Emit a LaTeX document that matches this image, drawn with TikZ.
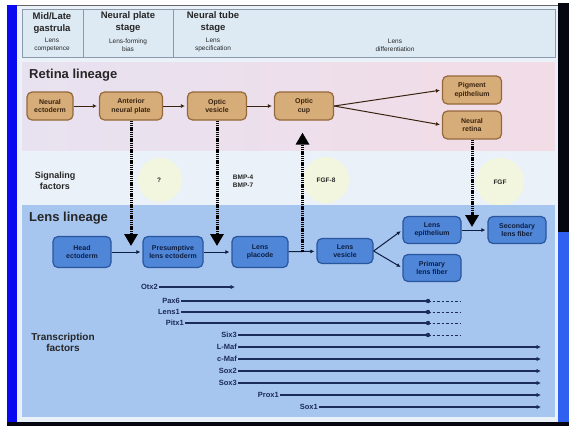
\documentclass[tikz,border=0pt]{standalone}
\usepackage{fontspec}
\setmainfont{Liberation Sans}
\usetikzlibrary{arrows.meta,calc}

\definecolor{slidebg}{HTML}{EAF1F8}
\definecolor{hdrfill}{HTML}{DDEAF4}
\definecolor{hdrline}{HTML}{8A9AAA}
\definecolor{retleft}{HTML}{E8E2F0}
\definecolor{retright}{HTML}{F2DCE6}
\definecolor{lenspanel}{HTML}{A6C5EF}
\definecolor{tanfill}{HTML}{D6AC78}
\definecolor{tanline}{HTML}{94683A}
\definecolor{tantext}{HTML}{3A2410}
\definecolor{lensfill}{HTML}{4F86D8}
\definecolor{lensline}{HTML}{2A569E}
\definecolor{lenstext}{HTML}{0E1E40}
\definecolor{tfcol}{HTML}{1C2C58}
\definecolor{glow}{HTML}{F3F6DE}
\definecolor{stripblue}{HTML}{0A0AF0}
\definecolor{stripright}{HTML}{3060F0}
\definecolor{stripdark}{HTML}{05060F}

\begin{document}
\begin{tikzpicture}[x=1pt, y=-1pt,
  every node/.style={font=\fontsize{7}{8.5}\selectfont\bfseries, align=center, inner sep=1pt, text=black!85},
  stage/.style={font=\fontsize{9.5}{12}\selectfont\bfseries},
  sub/.style={font=\fontsize{6.5}{8}\selectfont},
  heading/.style={font=\fontsize{13}{15}\selectfont\bfseries, anchor=west},
  side/.style={font=\fontsize{9}{11}\selectfont\bfseries},
  retina/.style={draw=tanline, fill=tanfill, line width=1.2pt, rounded corners=5pt,
    minimum width=59pt, minimum height=28pt, text=tantext},
  lens/.style={draw=lensline, fill=lensfill, line width=1.2pt, rounded corners=5pt,
    minimum width=58pt, minimum height=27pt, text=lenstext},
  flow/.style={line width=1pt, -{Latex[length=4pt,width=4pt]}, shorten >=2pt},
  signal/.style={line width=3pt, dash pattern=on 1.3pt off 0.9pt,
    -{Triangle[length=12pt,width=13pt]}},
  factor/.style={font=\fontsize{6.5}{8}\selectfont\bfseries},
  tf/.style={font=\fontsize{7.5}{8}\selectfont\bfseries, text=tfcol, anchor=east},
  tfline/.style={tfcol, line width=1.3pt},
  tfarrow/.style={tfline, -{Latex[length=4.5pt,width=4.5pt]}}
]
  \useasboundingbox (0,0) rectangle (569,426);
  % Slide frame
  \fill[white] (0,0) rectangle (569,426);
  \fill[slidebg] (17,5) rectangle (558,422);
  \draw[black!60, line width=1pt] (17,5) -- (558,5);
  \fill[stripblue] (7,5) rectangle (17,426);
  \fill[stripdark] (558,3) rectangle (569,232);
  \fill[stripright] (558,232) rectangle (569,422);
  \fill[stripdark] (7,422) rectangle (569,426);

  % Stages
  \draw[hdrline, fill=hdrfill, line width=0.8pt] (22,9) rectangle (555,57);
  \draw[hdrline, line width=0.8pt] (83,9) -- (83,57) (173,9) -- (173,57);
  \node[stage] (gastrula) at (52,23) {Mid/Late\\gastrula};
  \node[sub] (competence) at (52,45) {Lens\\competence};
  \node[stage] (plate) at (128,22) {Neural plate\\stage};
  \node[sub] (bias) at (128,45) {Lens-forming\\bias};
  \node[stage] (tube) at (213,22) {Neural tube\\stage};
  \node[sub] (specification) at (213,45) {Lens\\specification};
  \node[sub] (differentiation) at (395,45) {Lens\\differentiation};

  % Retina lineage
  \shade[left color=retleft, right color=retright] (22,62) rectangle (555,150);
  \node[heading] (retinalbl) at (28,75) {Retina lineage};
  \node[retina, minimum width=46pt] (ne) at (50,106) {Neural\\ectoderm};
  \node[retina, minimum width=63pt] (anp) at (131,106) {Anterior\\neural plate};
  \node[retina] (ov) at (217,106) {Optic\\vesicle};
  \node[retina] (oc) at (304,106) {Optic\\cup};
  \node[retina] (pig) at (472,90) {Pigment\\epithelium};
  \node[retina] (nr) at (472,125) {Neural\\retina};
  \draw[flow, tantext] (ne) -- (anp);
  \draw[flow, tantext] (anp) -- (ov);
  \draw[flow, tantext] (ov) -- (oc);
  \draw[flow, tantext] (oc.east) -- (pig.west);
  \draw[flow, tantext] (oc.east) -- (nr.west);

  % Signaling factors
  \fill[glow] (160,180) circle (22);
  \fill[glow] (326,180) circle (23);
  \fill[glow] (500,182) circle (24);
  \node[side] (siglbl) at (55,181) {Signaling\\factors};
  \node[factor] (unknown) at (159,180) {?};
  \node[factor] (bmp) at (243,181) {BMP-4\\BMP-7};
  \node[factor] (fgf8) at (326,180) {FGF-8};
  \node[factor] (fgf) at (500,182) {FGF};

  % Lens lineage
  \fill[lenspanel] (22,205) rectangle (555,417);
  \node[heading] (lenslbl) at (28,218) {Lens lineage};
  \node[lens, minimum height=31pt] (head) at (82,252) {Head\\ectoderm};
  \node[lens, minimum width=60pt, minimum height=31pt] (pre) at (173,252) {Presumptive\\lens ectoderm};
  \node[lens, minimum width=56pt, minimum height=31pt] (plac) at (260,252) {Lens\\placode};
  \node[lens, minimum width=56pt, minimum height=25pt] (ves) at (345,251) {Lens\\vesicle};
  \node[lens] (epi) at (432,230) {Lens\\epithelium};
  \node[lens] (prim) at (432,268) {Primary\\lens fiber};
  \node[lens] (sec) at (517,230) {Secondary\\lens fiber};
  \draw[flow, lenstext] (head) -- (pre);
  \draw[flow, lenstext] (pre) -- (plac);
  \draw[flow, lenstext] (plac) -- (ves);
  \draw[flow, lenstext] (ves.east) -- (epi.west);
  \draw[flow, lenstext] (ves.east) -- (prim.west);
  \draw[flow, lenstext] (epi) -- (sec);

  % Inductive signals between lineages
  \coordinate (j1) at (anp.south |- head.east);
  \coordinate (j2) at (ov.south |- pre.east);
  \coordinate (j3) at ($(plac.east)!0.5!(ves.west)$);
  \coordinate (j4) at (nr.south |- epi.east);
  \draw[signal, shorten >=6pt] (anp.south) -- (j1);
  \draw[signal, shorten >=6pt] (ov.south) -- (j2);
  \draw[signal, shorten >=12pt] (j3) -- (j3 |- oc.south);
  \draw[signal, shorten >=3pt] (nr.south) -- (j4);

  % Transcription factors
  \node[side, font=\fontsize{10}{11}\selectfont\bfseries] (tflbl) at (63,342) {Transcription\\factors};
  \node[tf] (otx) at (159,287) {Otx2};
  \coordinate (otxend) at (235,287);
  \draw[tfarrow] (otx) -- (otxend);
  \foreach \name/\y/\s [count=\i] in {Pax6/301/181, Lens1/312/181, Pitx1/323/185, Six3/335/238} {
    \node[tf] (early\i) at (\s,\y) {\name};
    \coordinate (stop\i) at (428,\y);
    \coordinate (fade\i) at (460,\y);
    \draw[tfline] (early\i) -- (stop\i);
    \fill[tfcol] (stop\i) circle (2.2);
    \draw[tfcol, line width=0.8pt, dash pattern=on 2.5pt off 2pt] (stop\i) -- (fade\i);
  }
  \foreach \name/\y/\s [count=\i] in {L-Maf/347/238, c-Maf/359/238, Sox2/371/238, Sox3/383/238, Prox1/395/280, Sox1/407/319} {
    \node[tf] (late\i) at (\s,\y) {\name};
    \coordinate (end\i) at (541,\y);
    \draw[tfarrow] (late\i) -- (end\i);
  }
\end{tikzpicture}
\end{document}
